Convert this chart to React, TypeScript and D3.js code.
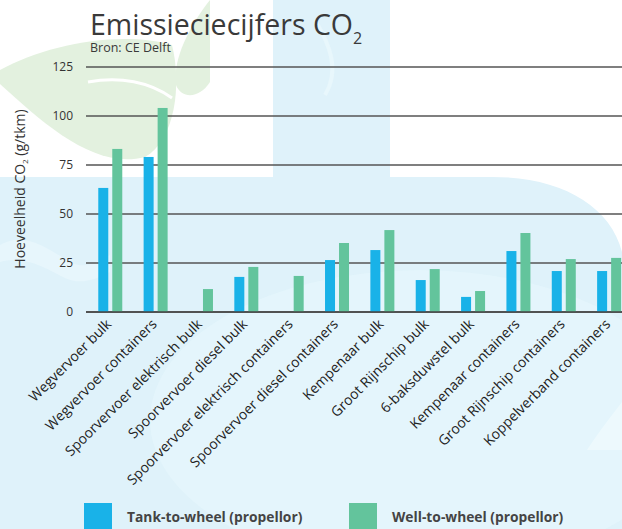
import React from "react";
import * as d3 from "d3";

const categories = [
  "Wegvervoer bulk",
  "Wegvervoer containers",
  "Spoorvervoer elektrisch bulk",
  "Spoorvervoer diesel bulk",
  "Spoorvervoer elektrisch containers",
  "Spoorvervoer diesel containers",
  "Kempenaar bulk",
  "Groot Rijnschip bulk",
  "6-baksduwstel bulk",
  "Kempenaar containers",
  "Groot Rijnschip containers",
  "Koppelverband containers",
];
const tankToWheel: (number | null)[] = [63.3, 79.1, null, 17.9, null, 26.5, 31.6, 16.3, 7.7, 31.1, 20.9, 20.9];
const wellToWheel: (number | null)[] = [83.2, 104.1, 11.7, 23.0, 18.4, 35.2, 41.8, 21.9, 10.7, 40.3, 27.0, 27.6];
const seriesNames = ["Tank-to-wheel (propellor)", "Well-to-wheel (propellor)"];
const yTicks = [0, 25, 50, 75, 100, 125];

const W = 622;
const H = 529;
const colors = ["#19b2e8", "#63c49c"];
const FONT = "'Open Sans', sans-serif";

export default function App() {
  const y = d3.scaleLinear().domain([0, 125]).range([312, 67]);
  const x0 = d3.scaleBand<string>().domain(categories).range([87.6, 631.8]).padding(0);
  const x1 = d3.scaleBand<string>().domain(seriesNames).range([0, 24]).paddingInner(0.286);
  const seriesData = [tankToWheel, wellToWheel];

  return (
    <svg width={W} height={H} style={{ position: "absolute", left: 0, top: 0 }}>
      {/* background decoration */}
      <rect x={0} y={0} width={W} height={H} fill="#dff2fa" />
      <rect x={0} y={0} width={273} height={177} fill="#ffffff" />
      <rect x={390} y={0} width={232} height={177} fill="#ffffff" />
      <path d="M493,177 C560,177 610,205 622,252 L622,177 Z" fill="#ffffff" />
      <path d="M587,450 C600,430 612,415 622,402 L622,450 Z" fill="#ffffff" />
      <ellipse cx={420} cy={420} rx={270} ry={150} fill="#e5f6fc" opacity={0.7} />
      <path d="M0,245 C25,230 50,250 70,262 C85,270 95,262 110,255 L110,272 C95,280 80,285 65,278 C45,268 25,255 0,262 Z" fill="#e7f6fc" />
      {/* leaf shapes */}
      <path d="M0,70 C45,45 120,30 172,45 C182,85 175,140 145,157 C95,170 45,125 0,84 Z" fill="#e3f1df" />
      <path d="M210,0 C190,25 172,60 176,85 C182,100 200,98 210,82 L210,0 Z" fill="#e3f1df" />
      <path d="M88,82 C120,76 150,82 172,98" stroke="#ffffff" strokeWidth={3} fill="none" />
      <path d="M315,20 C330,45 340,70 325,95" stroke="#e8f7fc" strokeWidth={4} fill="none" />

      {/* title */}
      <text x={90} y={35} fontFamily={FONT} fontSize={28.5} fill="#3a3a3a">
        Emissieciecijfers CO
        <tspan fontSize={16} dy={9}>2</tspan>
      </text>
      <text x={90} y={52} fontFamily={FONT} fontSize={12.5} fill="#3a3a3a">
        Bron: CE Delft
      </text>

      {/* grid */}
      {yTicks.map((t) => (
        <g key={t}>
          <line x1={86} x2={W} y1={y(t)} y2={y(t)} stroke="#555" strokeWidth={1.6} />
          <text x={73} y={y(t)} dy="0.35em" textAnchor="end" fontFamily={FONT} fontSize={12} fill="#333">
            {t}
          </text>
        </g>
      ))}

      {/* y title */}
      <text
        transform={`translate(25,189) rotate(-90)`}
        textAnchor="middle"
        fontFamily={FONT}
        fontSize={14}
        fill="#333"
      >
        Hoeveelheid CO<tspan fontSize={8} dy={3}>2</tspan>
        <tspan dy={-3}> (g/tkm)</tspan>
      </text>

      {/* bars */}
      {categories.map((c, i) => (
        <g key={c} transform={`translate(${x0(c)! + x0.bandwidth() / 2 - 12},0)`}>
          {seriesNames.map((s, j) => {
            const v = seriesData[j][i];
            if (v == null) return null;
            return (
              <rect key={s} x={x1(s)} y={y(v)} width={x1.bandwidth()} height={y(0) - y(v)} fill={colors[j]} />
            );
          })}
        </g>
      ))}
      <line x1={86} x2={W} y1={y(0)} y2={y(0)} stroke="#444" strokeWidth={1.6} />

      {/* x labels */}
      {categories.map((c) => (
        <text
          key={c}
          transform={`translate(${x0(c)! + x0.bandwidth() / 2 + 2},325) rotate(-45)`}
          textAnchor="end"
          fontFamily={FONT}
          fontSize={14}
          fill="#222"
        >
          {c}
        </text>
      ))}

      {/* legend */}
      {seriesNames.map((s, j) => (
        <g key={s} transform={`translate(${84 + j * 265},503)`}>
          <rect x={0} y={0} width={28} height={28} fill={colors[j]} />
          <text x={43} y={19} fontFamily={FONT} fontSize={13.8} fontWeight="bold" fill="#444">
            {s}
          </text>
        </g>
      ))}
    </svg>
  );
}
